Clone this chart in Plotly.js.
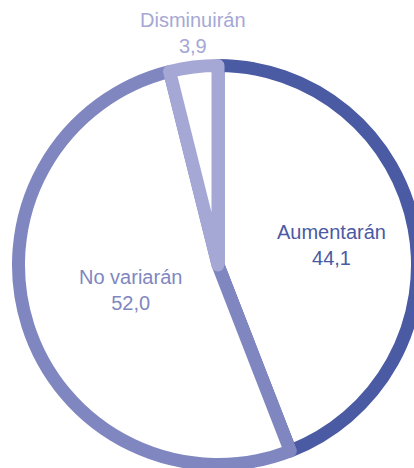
<!DOCTYPE html>
<html>
<head>
<meta charset="utf-8">
<script src="https://cdn.plot.ly/plotly-3.0.1.min.js"></script>
<style>
html, body { margin:0; padding:0; overflow:hidden; background:#fff; }
#chart { width:434px; height:530px; }
.slice path.surface { stroke-linejoin: round; }
</style>
</head>
<body>
<div id="chart"></div>
<script>
const categories = ["Aumentarán", "No variarán", "Disminuirán"];
const values = [44.1, 52.0, 3.9];
const valueLabels = ["44,1", "52,0", "3,9"];
const colors = ["#4a5aa3", "#8087c0", "#a5a8d5"];

const W = 434, H = 530;
const cx = 218, cy = 265, r = 199.5;

const trace = {
  type: "pie",
  values: values,
  labels: categories,
  sort: false,
  direction: "clockwise",
  rotation: 0,
  textinfo: "none",
  hoverinfo: "label+value",
  marker: { colors: ["#ffffff", "#ffffff", "#ffffff"], line: { color: colors, width: 13 } },
  domain: { x: [(cx - r) / W, (cx + r) / W], y: [1 - (cy + r) / H, 1 - (cy - r) / H] },
  showlegend: false
};

const labelPos = [[331, 245], [130, 290], [193, 33]];
const annotations = categories.map((c, i) => ({
  xref: "paper", yref: "paper",
  x: labelPos[i][0] / W, y: 1 - labelPos[i][1] / H,
  xanchor: "center", yanchor: "middle",
  text: c + "<br>" + valueLabels[i],
  showarrow: false,
  align: "center",
  font: { family: "Liberation Sans, Arial, sans-serif", size: 20, color: colors[i] }
}));

Plotly.newPlot("chart", [trace], {
  width: W, height: H,
  margin: { l: 0, r: 0, t: 0, b: 0 },
  paper_bgcolor: "#ffffff",
  annotations: annotations
}, { displayModeBar: false, staticPlot: true });
</script>
</body>
</html>
